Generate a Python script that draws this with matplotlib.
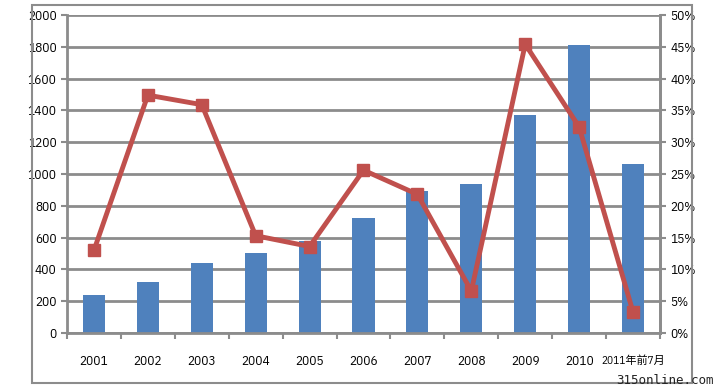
import matplotlib.pyplot as plt
from matplotlib.patches import Rectangle

plt.rcParams['font.family'] = ['IBM Plex Sans Condensed', 'Noto Sans CJK SC', 'DejaVu Sans']

years = ['2001', '2002', '2003', '2004', '2005', '2006', '2007', '2008', '2009', '2010', '2011年前7月']
counts = [240, 320, 440, 505, 580, 725, 890, 940, 1370, 1810, 1065]
growth = [13.0, 37.4, 35.9, 15.3, 13.6, 25.6, 21.8, 6.6, 45.4, 32.4, 3.3]

grid_c = '#8c8c8c'
bar_c = '#4f81bd'
line_c = '#c0504d'

fig = plt.figure(figsize=(7.19, 3.91), dpi=100)
ax = fig.add_axes([67/719, 1 - 333/391, (660 - 67)/719, (333 - 15)/391])

x = list(range(len(years)))
ax.set_axisbelow(True)
ax.bar(x, counts, width=0.41, color=bar_c, zorder=2)
ax.set_xlim(-0.5, len(years) - 0.5)
ax.set_ylim(0, 2000)
ax.set_yticks(range(0, 2001, 200))
ax.yaxis.grid(True, color=grid_c, linewidth=2)
ax.set_xticks(x)
ax.set_xticklabels(years, fontsize=9.5)
ax.get_xticklabels()[-1].set_fontsize(8)
ax.set_xticks([i - 0.5 for i in range(len(years) + 1)], minor=True)
ax.tick_params(axis='x', which='major', length=0, pad=16)
ax.tick_params(axis='x', which='minor', length=4, width=1.5, color=grid_c, direction='out')
ax.tick_params(axis='y', length=4, width=1.5, color=grid_c, labelsize=9.5)
ax.spines['top'].set_visible(False)
for s in ['left', 'bottom', 'right']:
    ax.spines[s].set_color(grid_c)
    ax.spines[s].set_linewidth(2)

ax2 = ax.twinx()
ax2.plot(x, growth, color=line_c, linewidth=3.5, marker='s', markersize=8,
         markerfacecolor=line_c, markeredgecolor=line_c, zorder=3)
ax2.set_ylim(0, 50)
ax2.set_yticks(range(0, 51, 5))
ax2.set_yticklabels([f'{v}%' for v in range(0, 51, 5)])
ax2.tick_params(axis='y', length=4, width=1.5, color=grid_c, labelsize=9.5)
for s in ['top', 'left', 'bottom']:
    ax2.spines[s].set_visible(False)
ax2.spines['right'].set_color(grid_c)
ax2.spines['right'].set_linewidth(2)

# outer chart frame and watermark
fig.patches.append(Rectangle((32/719, 8/391), (692 - 32)/719, (386 - 8)/391,
                             transform=fig.transFigure, fill=False,
                             edgecolor='#8c8c8c', linewidth=1.5))
fig.text(714/719, 10/391, '315online.com', ha='right', va='center',
         fontsize=9, family='DejaVu Sans Mono', color='#222222')

fig.savefig('out.png', dpi=100)
